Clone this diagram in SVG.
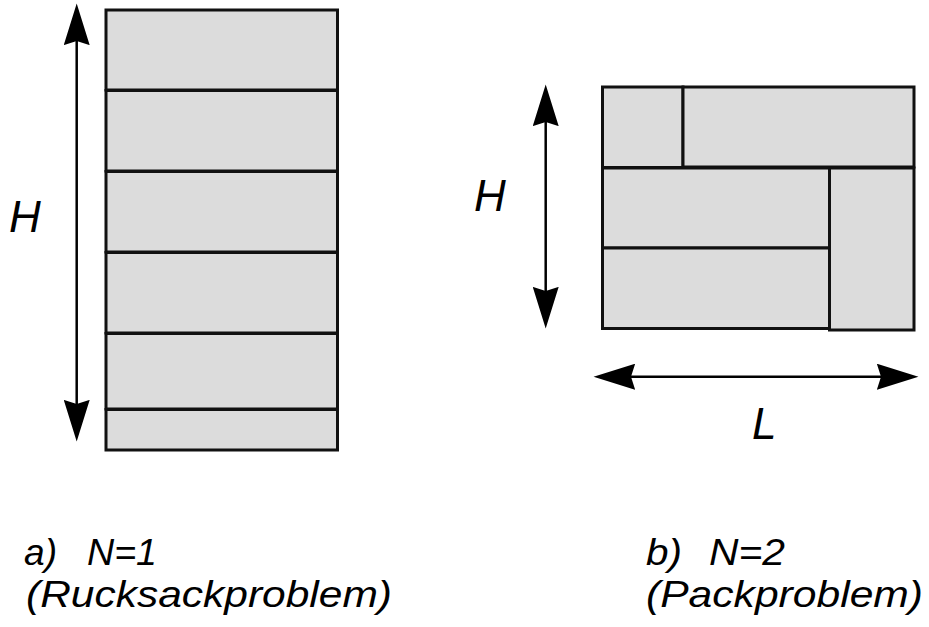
<svg xmlns="http://www.w3.org/2000/svg" width="929" height="627" viewBox="0 0 929 627">
  <style>
    .box { fill: #dcdcdc; stroke: #111; stroke-width: 3; }
    .dim { stroke: #000; stroke-width: 2.5; fill: none; marker-start: url(#head); marker-end: url(#head); }
    .lbl { font-family: "Liberation Sans", Arial, sans-serif; font-style: italic; fill: #000; }
    .big { font-size: 44px; }
    .cap { font-size: 37px; }
  </style>
  <defs>
    <!-- barbed arrowhead used on both ends of each dimension line -->
    <marker id="head" markerUnits="userSpaceOnUse" markerWidth="42" markerHeight="26" viewBox="0 0 40 25" refX="4" refY="12.5" orient="auto-start-reverse">
      <path d="M40,12.5 L0,0 L4,12.5 L0,25 Z" fill="#000"/>
    </marker>
  </defs>
  <rect width="929" height="627" fill="#fff"/>

  <!-- a) stacked strips, one dimension -->
  <g id="strip1"><rect class="box" x="106" y="10" width="231.5" height="80"/></g>
  <g id="strip2"><rect class="box" x="106" y="90.5" width="231.5" height="80.5"/></g>
  <g id="strip3"><rect class="box" x="106" y="171.5" width="231.5" height="80.5"/></g>
  <g id="strip4"><rect class="box" x="106" y="252.5" width="231.5" height="80.5"/></g>
  <g id="strip5"><rect class="box" x="106" y="333.5" width="231.5" height="75.5"/></g>
  <g id="strip6"><rect class="box" x="106" y="409.5" width="231.5" height="40.5"/></g>

  <!-- b) two-dimensional packing -->
  <g id="packA"><rect class="box" x="602.5" y="87" width="80.5" height="80.5"/></g>
  <g id="packB"><rect class="box" x="683" y="87" width="231" height="80"/></g>
  <g id="packC"><rect class="box" x="602.5" y="168" width="227" height="80"/></g>
  <g id="packD"><rect class="box" x="602.5" y="248" width="227" height="80.5"/></g>
  <g id="packE"><rect class="box" x="829.5" y="168" width="84.5" height="162"/></g>

  <!-- dimension arrows -->
  <g id="connectors">
    <line class="dim" x1="76.7" y1="41" x2="76.7" y2="404"/>
    <line class="dim" x1="545.7" y1="122" x2="545.7" y2="291"/>
    <line class="dim" x1="631" y1="376.7" x2="881" y2="376.7"/>
  </g>

  <!-- labels -->
  <g id="labels">
    <text class="lbl big" x="9" y="232">H</text>
    <text class="lbl big" x="474" y="211">H</text>
    <text class="lbl big" x="752" y="439">L</text>

    <text class="lbl cap" y="565"><tspan x="24" textLength="33" lengthAdjust="spacingAndGlyphs">a)</tspan><tspan x="87" textLength="70" lengthAdjust="spacingAndGlyphs">N=1</tspan></text>
    <text class="lbl cap" x="26" y="607" textLength="366" lengthAdjust="spacingAndGlyphs">(Rucksackproblem)</text>
    <text class="lbl cap" y="565"><tspan x="646" textLength="36" lengthAdjust="spacingAndGlyphs">b)</tspan><tspan x="709" textLength="76" lengthAdjust="spacingAndGlyphs">N=2</tspan></text>
    <text class="lbl cap" x="646" y="607" textLength="277" lengthAdjust="spacingAndGlyphs">(Packproblem)</text>
  </g>
</svg>
